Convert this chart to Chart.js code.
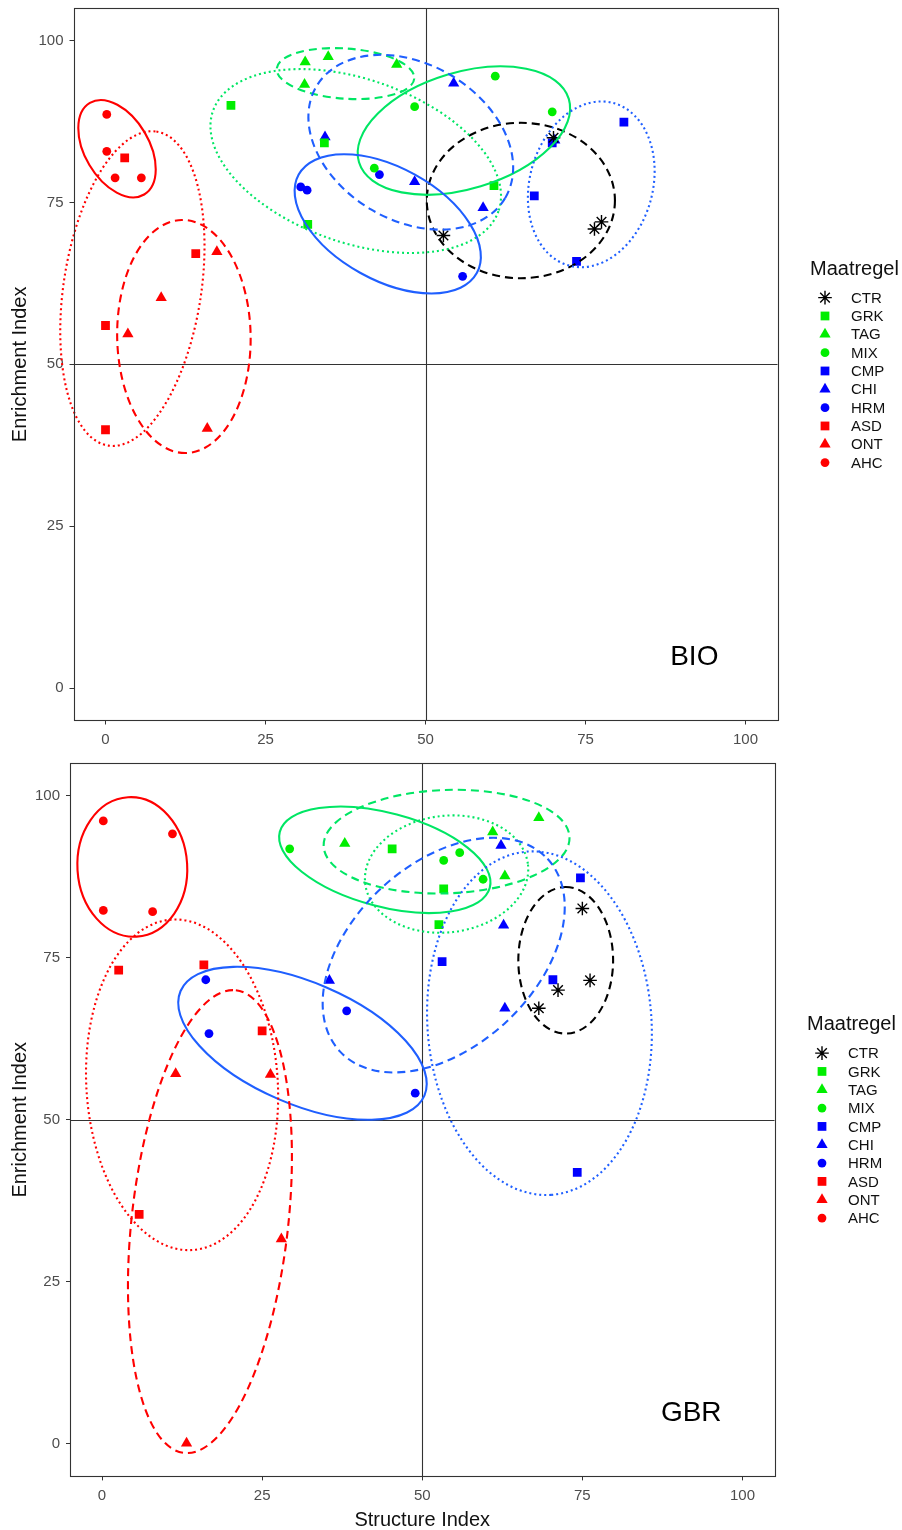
<!DOCTYPE html>
<html>
<head>
<meta charset="utf-8">
<script src="https://cdn.jsdelivr.net/npm/chart.js@4.4.1/dist/chart.umd.min.js"></script>
<style>
  body { margin: 0; background: #fff; }
  #wrap { position: relative; width: 902px; height: 1530px; overflow: hidden; }
  canvas { position: absolute; left: 0; }
</style>
</head>
<body>
<div id="wrap">
  <canvas id="bio" width="902" height="762" style="top:0"></canvas>
  <canvas id="gbr" width="902" height="775" style="top:755px"></canvas>
</div>
<script>
// groups (Maatregel) in legend order
const groups = ['CTR', 'GRK', 'TAG', 'MIX', 'CMP', 'CHI', 'HRM', 'ASD', 'ONT', 'AHC'];
const xTicks = [0, 25, 50, 75, 100];
const yTicks = [0, 25, 50, 75, 100];
const refX = 50;   // vertical reference line (Structure Index)
const refY = 50;   // horizontal reference line (Enrichment Index)

// ---- BIO: [Structure Index, Enrichment Index]
const bioCTR = [[52.8, 69.9], [77.5, 72.0], [76.4, 70.9], [70.0, 85.0]];
const bioGRK = [[19.6, 90.0], [34.2, 84.2], [31.6, 71.6], [60.7, 77.6]];
const bioTAG = [[31.2, 96.7], [34.8, 97.5], [45.5, 96.3], [31.1, 93.2]];
const bioMIX = [[60.9, 94.5], [48.3, 89.8], [42.0, 80.3], [69.8, 89.0]];
const bioCMP = [[67.0, 76.0], [81.0, 87.4], [73.6, 65.9], [69.8, 84.2]];
const bioCHI = [[34.3, 85.1], [48.3, 78.2], [54.4, 93.4], [59.0, 74.2], [70.2, 84.6]];
const bioHRM = [[30.5, 77.4], [31.5, 76.9], [42.8, 79.3], [55.8, 63.6]];
const bioASD = [[3.0, 81.9], [14.1, 67.1], [0.0, 56.0], [0.0, 39.9]];
const bioONT = [[17.4, 67.4], [8.7, 60.3], [3.5, 54.7], [15.9, 40.1]];
const bioAHC = [[0.2, 88.6], [0.2, 82.9], [1.5, 78.8], [5.6, 78.8]];

// BIO ellipses, per group: centre, half width, half height, correlation
const bioEllCx = [64.9, 39.1, 37.5, 56.0, 75.9, 47.7, 44.1, 4.2, 12.25, 1.8];
const bioEllCy = [75.3, 81.4, 94.9, 86.1, 77.8, 84.3, 71.7, 61.7, 54.3, 83.3];
const bioEllHw = [14.7, 22.7, 10.75, 16.6, 9.9, 16.0, 14.55, 11.27, 10.43, 6.05];
const bioEllHh = [12.0, 14.2, 3.94, 9.9, 12.8, 13.5, 10.75, 24.3, 18.0, 7.51];
const bioEllR  = [0.0, -0.38, -0.165, 0.35, 0.16, -0.29, -0.47, 0.27, -0.02, -0.42];

// ---- GBR
const gbrCTR = [[75.0, 82.6], [76.2, 71.5], [71.2, 70.0], [68.2, 67.2]];
const gbrGRK = [[45.3, 91.8], [53.35, 85.6], [52.6, 80.1]];
const gbrTAG = [[37.9, 92.6], [61.0, 94.4], [68.2, 96.6], [62.9, 87.6]];
const gbrMIX = [[29.3, 91.8], [55.85, 91.2], [53.35, 90.0], [59.5, 87.1]];
const gbrCMP = [[53.1, 74.4], [74.7, 87.3], [70.4, 71.6], [74.2, 41.9]];
const gbrCHI = [[35.5, 71.5], [62.3, 92.3], [62.7, 80.0], [62.9, 67.2]];
const gbrHRM = [[16.2, 71.6], [16.7, 63.3], [38.2, 66.8], [48.9, 54.1]];
const gbrASD = [[2.6, 73.1], [15.9, 73.9], [25.0, 63.7], [5.8, 35.4]];
const gbrONT = [[11.5, 57.1], [26.3, 57.0], [28.0, 31.6], [13.2, 0.1]];
const gbrAHC = [[0.2, 96.1], [11.0, 94.1], [0.2, 82.3], [7.9, 82.1]];

const gbrEllCx = [72.4, 53.8, 53.8, 44.15, 68.3, 53.35, 31.3, 12.5, 16.85, 4.73];
const gbrEllCy = [74.6, 87.9, 92.9, 90.1, 64.9, 75.4, 61.8, 55.4, 34.3, 89.0];
const gbrEllHw = [7.4, 12.75, 19.2, 16.5, 17.55, 18.9, 19.4, 15.0, 12.8, 8.58];
const gbrEllHh = [11.3, 9.05, 8.0, 8.2, 26.5, 18.1, 11.8, 25.5, 35.7, 10.76];
const gbrEllR  = [0.0, 0.08, 0.07, -0.425, -0.06, 0.41, -0.53, -0.07, 0.28, -0.03];

// ---- styles
const GREEN = '#00ee00', BLUE = '#0000ff', RED = '#ff0000';
const pointColor = { CTR: '#000000', GRK: GREEN, TAG: GREEN, MIX: GREEN, CMP: BLUE, CHI: BLUE, HRM: BLUE, ASD: RED, ONT: RED, AHC: RED };
const pointShape = { CTR: 'star', GRK: 'rect', TAG: 'triangle', MIX: 'circle', CMP: 'rect', CHI: 'triangle', HRM: 'circle', ASD: 'rect', ONT: 'triangle', AHC: 'circle' };
const shapeRadius = { star: 6.8, rect: 6.2, triangle: 6.5, circle: 4.4 };
const ellColor = { CTR: '#000000', GRK: '#00e664', TAG: '#00e664', MIX: '#00e664', CMP: '#1f5fff', CHI: '#1f5fff', HRM: '#1f5fff', ASD: RED, ONT: RED, AHC: RED };
const dashFor = { star: [8, 5], rect: [2, 3], triangle: [8, 5], circle: [] };

const FONT = "'Liberation Sans', Arial, sans-serif";

function drawMarker(ctx, g, x, y) {
  const style = pointShape[g];
  const r = shapeRadius[style];
  ctx.save();
  ctx.fillStyle = pointColor[g];
  ctx.strokeStyle = pointColor[g];
  ctx.lineWidth = 1.4;
  Chart.helpers.drawPoint(ctx, { pointStyle: style, radius: r, rotation: 0, borderWidth: style === 'star' ? 1.4 : 0 }, x, y);
  ctx.restore();
}

const panelPlugin = {
  id: 'panel',
  beforeDatasetsDraw(chart, args, opts) {
    const { ctx, chartArea: a, scales: { x, y } } = chart;
    ctx.save();
    ctx.strokeStyle = '#333';
    ctx.lineWidth = 1.1;
    const px = Math.round(x.getPixelForValue(refX)) + 0.5;
    const py = Math.round(y.getPixelForValue(refY)) + 0.5;
    ctx.beginPath();
    ctx.moveTo(px, a.top); ctx.lineTo(px, a.bottom);
    ctx.moveTo(a.left, py); ctx.lineTo(a.right, py);
    ctx.stroke();
    ctx.restore();
  },
  afterDatasetsDraw(chart, args, opts) {
    const { ctx, scales: { x, y } } = chart;
    const e = opts.ell;
    const kx = x.getPixelForValue(1) - x.getPixelForValue(0);
    const ky = y.getPixelForValue(0) - y.getPixelForValue(1);
    ctx.save();
    groups.forEach((g, i) => {
      const cx = x.getPixelForValue(e.cx[i]);
      const cy = y.getPixelForValue(e.cy[i]);
      const sx = e.hw[i] * kx, sy = e.hh[i] * ky, r = e.r[i];
      const A = sx * sx, D = sy * sy, B = -r * sx * sy;
      const m = (A + D) / 2, q = Math.sqrt(((A - D) / 2) ** 2 + B * B);
      const ang = 0.5 * Math.atan2(2 * B, A - D);
      ctx.beginPath();
      ctx.ellipse(cx, cy, Math.sqrt(m + q), Math.sqrt(Math.max(m - q, 0.01)), ang, 0, Math.PI * 2);
      ctx.strokeStyle = ellColor[g];
      ctx.lineWidth = 2.1;
      ctx.setLineDash(dashFor[pointShape[g]]);
      ctx.stroke();
    });
    ctx.restore();
  },
  afterDraw(chart, args, opts) {
    const { ctx, chartArea: a, scales: { x, y } } = chart;
    ctx.save();
    // panel border
    ctx.strokeStyle = '#333';
    ctx.lineWidth = 1.1;
    ctx.strokeRect(Math.round(a.left) + 0.5, Math.round(a.top) + 0.5, Math.round(a.right - a.left), Math.round(a.bottom - a.top));
    // panel label
    ctx.fillStyle = '#000';
    ctx.font = '28px ' + FONT;
    ctx.textAlign = 'center';
    ctx.textBaseline = 'middle';
    ctx.fillText(opts.label, x.getPixelForValue(opts.labelX), y.getPixelForValue(opts.labelY));
    // legend
    const mid = (a.top + a.bottom) / 2;
    ctx.textAlign = 'left';
    ctx.fillStyle = '#111';
    ctx.font = '20px ' + FONT;
    ctx.fillText('Maatregel', a.right + 32.5, mid - 95);
    ctx.font = '15px ' + FONT;
    groups.forEach((g, i) => {
      const ly = mid - 66.7 + i * 18.33;
      drawMarker(ctx, g, a.right + 47.5, ly);
      ctx.fillStyle = '#111';
      ctx.fillText(g, a.right + 73.5, ly + 1);
    });
    ctx.restore();
  }
};

function toPoints(arr) {
  return arr.map(p => ({ x: p[0], y: p[1] }));
}

function makePanel(id, label, pts, ell, lay) {
  const datasets = groups.map((g, i) => {
    const style = pointShape[g];
    return {
      label: g,
      data: toPoints(pts[i]),
      pointStyle: style,
      pointRadius: shapeRadius[style],
      pointHoverRadius: shapeRadius[style],
      backgroundColor: pointColor[g],
      borderColor: pointColor[g],
      borderWidth: style === 'star' ? 1.4 : 0
    };
  });
  const tickFont = { family: FONT, size: 15 };
  new Chart(document.getElementById(id), {
    type: 'scatter',
    data: { datasets: datasets },
    options: {
      responsive: false,
      animation: false,
      events: [],
      layout: { padding: lay.padding },
      plugins: {
        legend: { display: false },
        tooltip: { enabled: false },
        panel: { ell: ell, label: label, labelX: 92, labelY: 4.8 }
      },
      scales: {
        x: {
          type: 'linear',
          min: -5,
          max: 105,
          afterBuildTicks: s => { s.ticks = xTicks.map(v => ({ value: v })); },
          afterFit: s => { s.height = lay.xHeight; s.paddingLeft = 0; s.paddingRight = 0; },
          ticks: { color: '#4d4d4d', font: tickFont, padding: 6, maxRotation: 0 },
          grid: { display: true, drawOnChartArea: false, drawTicks: true, tickLength: 4, color: '#333', lineWidth: 1 },
          border: { display: false },
          title: {
            display: lay.showXTitle,
            text: 'Structure Index',
            color: '#111',
            font: { family: FONT, size: 20, lineHeight: 1 },
            padding: { top: 0, bottom: 0 }
          }
        },
        y: {
          type: 'linear',
          min: -5,
          max: 105,
          afterBuildTicks: s => { s.ticks = yTicks.map(v => ({ value: v })); },
          afterFit: s => { s.width = lay.yWidth; s.paddingTop = 0; s.paddingBottom = 0; },
          ticks: { color: '#4d4d4d', font: tickFont, padding: 6 },
          grid: { display: true, drawOnChartArea: false, drawTicks: true, tickLength: 4, color: '#333', lineWidth: 1 },
          border: { display: false },
          title: {
            display: true,
            text: 'Enrichment Index',
            color: '#111',
            font: { family: FONT, size: 20, lineHeight: 1 },
            padding: { top: 10, bottom: 0 }
          }
        }
      }
    },
    plugins: [panelPlugin]
  });
}

makePanel('bio', 'BIO',
  [bioCTR, bioGRK, bioTAG, bioMIX, bioCMP, bioCHI, bioHRM, bioASD, bioONT, bioAHC],
  { cx: bioEllCx, cy: bioEllCy, hw: bioEllHw, hh: bioEllHh, r: bioEllR },
  { padding: { left: 0, top: 7, right: 124.5, bottom: 0 }, yWidth: 73.5, xHeight: 41.5, showXTitle: false });

makePanel('gbr', 'GBR',
  [gbrCTR, gbrGRK, gbrTAG, gbrMIX, gbrCMP, gbrCHI, gbrHRM, gbrASD, gbrONT, gbrAHC],
  { cx: gbrEllCx, cy: gbrEllCy, hw: gbrEllHw, hh: gbrEllHh, r: gbrEllR },
  { padding: { left: 0, top: 8, right: 127.5, bottom: 0 }, yWidth: 70, xHeight: 53.6, showXTitle: true });
</script>
</body>
</html>
